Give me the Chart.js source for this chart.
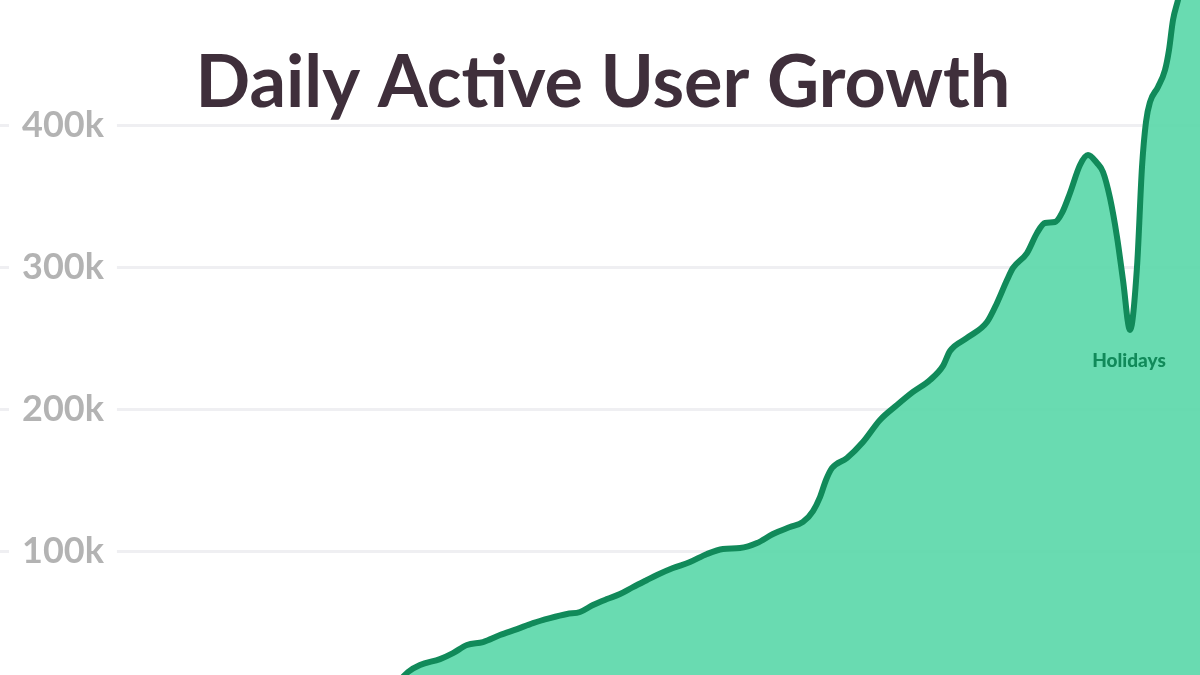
<!DOCTYPE html>
<html>
<head>
<meta charset="utf-8">
<script src="https://cdn.jsdelivr.net/npm/chart.js@4/dist/chart.umd.min.js"></script>
<style>
  html, body { margin: 0; padding: 0; background: #ffffff; }
  #wrap { width: 1200px; height: 675px; }
</style>
</head>
<body>
<div id="wrap"><canvas id="c" width="1200" height="675"></canvas></div>
<script>
// ---- data ----
const chartTitle = 'Daily Active User Growth';
const days = [200.5, 204, 210, 220, 226.5, 233.5, 241.5, 250, 258.5, 266.5, 275, 283.5, 290, 296.5, 303.5, 310, 316.5, 323.5, 328.5, 336.5, 345, 353.5, 361.5, 370, 378.5, 386.5, 395, 401.5, 406.5, 410, 413, 416, 423.5, 431.5, 440, 448.5, 456.5, 465, 471.5, 475, 483.5, 493.5, 498.5, 503.5, 506.5, 513.5, 518.5, 522.5, 527.5, 531, 535, 540, 544, 548.5, 551.5, 555, 558.5, 561.5, 565, 568.5, 571, 573, 575, 579, 582.5, 584.5, 586.5, 589, 592.5, 596, 600];
const dauK = [10.5, 15.5, 20.4, 24.6, 28.8, 34.5, 36.6, 41.5, 45.7, 49.9, 53.4, 56.3, 57.7, 62.6, 66.8, 70.3, 75.2, 80.2, 83.7, 88.6, 92.8, 98.5, 102.0, 102.7, 106.2, 112.5, 117.4, 121.0, 128.7, 138.5, 150.5, 158.9, 166.0, 177.2, 192.7, 203.2, 212.4, 220.8, 230.7, 241.2, 250.4, 261.6, 275.0, 291.1, 299.6, 310.1, 324.2, 331.2, 331.9, 338.3, 352.3, 372.0, 379.0, 373.4, 367.1, 348.8, 321.4, 291.1, 256.0, 300.3, 370.6, 402.3, 416.3, 426.9, 438.8, 452.9, 474.0, 488.0, 509.1, 526.7, 537.3];
const tickValuesK = [100, 200, 300, 400];
const holidayLabel = 'Holidays';
const holidayDay = 565;
const holidayValueK = 256.0;

const points = days.map((d, i) => ({ x: d, y: dauK[i] }));

const overlayPlugin = {
  id: 'overlay',
  afterDraw(chart) {
    const ctx = chart.ctx;
    ctx.save();
    ctx.font = 'bold 72px Lato';
    ctx.fillStyle = '#3f2f3b';
    ctx.textAlign = 'center';
    ctx.textBaseline = 'alphabetic';
    ctx.fillText(chartTitle, 603, 107);
    const px = chart.scales.x.getPixelForValue(holidayDay);
    const py = chart.scales.y.getPixelForValue(holidayValueK);
    ctx.font = '900 19px Lato';
    ctx.fillStyle = '#118a5a';
    ctx.textBaseline = 'middle';
    ctx.fillText(holidayLabel, px - 1, py + 31);
    ctx.restore();
  }
};

new Chart(document.getElementById('c'), {
  type: 'line',
  data: {
    datasets: [{
      data: points,
      borderColor: '#118a5a',
      borderWidth: 6,
      backgroundColor: 'rgba(92,216,170,0.92)',
      fill: 'origin',
      pointRadius: 0,
      cubicInterpolationMode: 'monotone'
    }]
  },
  options: {
    responsive: false,
    animation: false,
    devicePixelRatio: 1,
    layout: { padding: 0 },
    plugins: { legend: { display: false }, title: { display: false }, tooltip: { enabled: false } },
    scales: {
      x: {
        type: 'linear', min: 0, max: 600, display: false,
        afterFit(scale) { scale.height = 0; scale.paddingLeft = 0; scale.paddingRight = 0; }
      },
      y: {
        type: 'linear',
        min: 13.4,
        max: 488,
        afterBuildTicks(scale) { scale.ticks = tickValuesK.map(v => ({ value: v })); },
        afterFit(scale) { scale.width = 0; scale.paddingTop = 0; scale.paddingBottom = 0; },
        border: { display: false },
        grid: { color: '#efeff2', lineWidth: 3, drawTicks: false },
        ticks: {
          mirror: true,
          padding: 22,
          color: '#b3b3b3',
          font: { family: 'Lato', weight: 'bold', size: 36 },
          callback: v => v + 'k',
          showLabelBackdrop: true,
          backdropColor: '#ffffff',
          backdropPadding: { left: 13, right: 13, top: 0, bottom: 0 }
        }
      }
    }
  },
  plugins: [overlayPlugin]
});
</script>
</body>
</html>
